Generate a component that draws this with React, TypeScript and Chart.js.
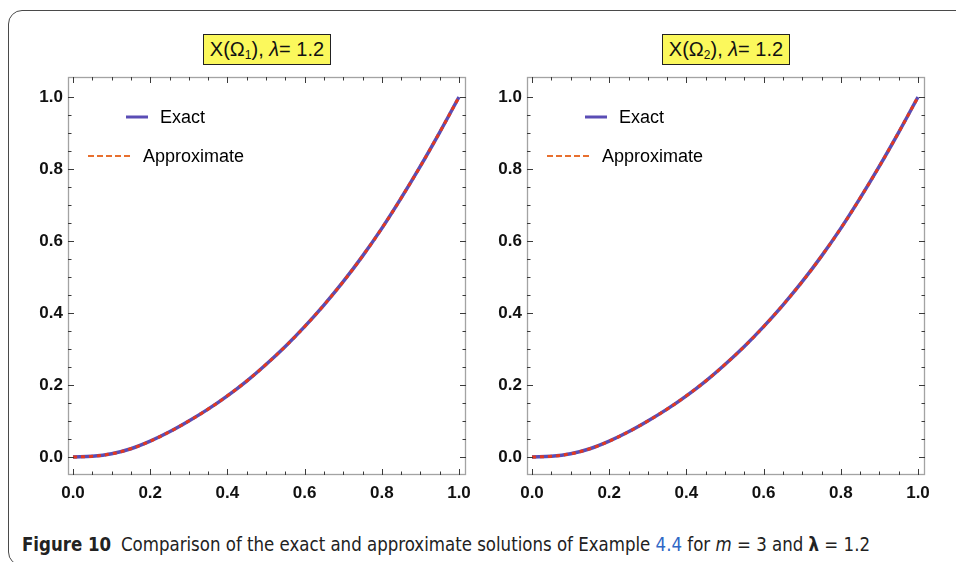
import React, { useEffect, useLayoutEffect, useRef } from "react";
import { Chart, registerables } from "chart.js";
Chart.register(...registerables);

// ---- data ----
const xValues = [0, 0.05, 0.1, 0.15, 0.2, 0.25, 0.3, 0.35, 0.4, 0.45, 0.5, 0.55, 0.6, 0.65, 0.7, 0.75, 0.8, 0.85, 0.9, 0.95, 1.0];
const exact1 = [0, 0.002, 0.009, 0.023, 0.044, 0.07, 0.1, 0.133, 0.17, 0.211, 0.257, 0.307, 0.362, 0.422, 0.487, 0.558, 0.635, 0.719, 0.808, 0.902, 1.0];
const approx1 = [0, 0.002, 0.009, 0.023, 0.044, 0.07, 0.1, 0.133, 0.17, 0.211, 0.257, 0.307, 0.362, 0.422, 0.487, 0.558, 0.635, 0.719, 0.808, 0.902, 1.0];
const exact2 = [0, 0.002, 0.009, 0.023, 0.044, 0.07, 0.1, 0.133, 0.17, 0.211, 0.257, 0.307, 0.362, 0.422, 0.487, 0.558, 0.635, 0.719, 0.808, 0.902, 1.0];
const approx2 = [0, 0.002, 0.009, 0.023, 0.044, 0.07, 0.1, 0.133, 0.17, 0.211, 0.257, 0.307, 0.362, 0.422, 0.487, 0.558, 0.635, 0.719, 0.808, 0.902, 1.0];
const majorTicks = [0, 0.2, 0.4, 0.6, 0.8, 1.0];
const minorTicks = [0, 0.05, 0.1, 0.15, 0.2, 0.25, 0.3, 0.35, 0.4, 0.45, 0.5, 0.55, 0.6, 0.65, 0.7, 0.75, 0.8, 0.85, 0.9, 0.95, 1.0];
const seriesLabels = ["Exact", "Approximate"];

const EXACT_COLOR = "#5a4db5";
const APPROX_COLOR = "#e2391f";
const APPROX_LEGEND_COLOR = "#e8702f";
const FONT = "'Liberation Sans', Arial, Helvetica, sans-serif";

const frameTicks = {
  id: "frameTicks",
  afterDraw(chart: any) {
    const { ctx, chartArea: a, scales } = chart;
    const xs = scales.x, ys = scales.y;
    ctx.save();
    ctx.strokeStyle = "#a3a3a3";
    ctx.lineWidth = 1.3;
    ctx.strokeRect(a.left + 0.5, a.top + 0.5, a.right - a.left - 1, a.bottom - a.top - 1);
    ctx.strokeStyle = "#3a3a3a";
    ctx.lineWidth = 1;
    const line = (x1: number, y1: number, x2: number, y2: number) => {
      ctx.beginPath(); ctx.moveTo(x1, y1); ctx.lineTo(x2, y2); ctx.stroke();
    };
    minorTicks.forEach((v) => {
      const major = majorTicks.some((m) => Math.abs(m - v) < 1e-9);
      const len = major ? 6 : 3.5;
      const px = Math.round(xs.getPixelForValue(v)) + 0.5;
      line(px, a.bottom, px, a.bottom - len);
      line(px, a.top, px, a.top + len);
      const py = Math.round(ys.getPixelForValue(v)) + 0.5;
      line(a.left, py, a.left + len, py);
      line(a.right, py, a.right - len, py);
    });
    ctx.restore();
  },
};

const innerLegend = {
  id: "innerLegend",
  afterDraw(chart: any) {
    const { ctx, chartArea: a } = chart;
    const ds = chart.data.datasets;
    ctx.save();
    ctx.font = `18px ${FONT}`;
    ctx.textBaseline = "middle";
    ctx.fillStyle = "#000";
    // Exact
    const y1 = a.top + 40;
    ctx.strokeStyle = ds[1].borderColor;
    ctx.lineWidth = 3;
    ctx.beginPath(); ctx.moveTo(a.left + 58, y1); ctx.lineTo(a.left + 80, y1); ctx.stroke();
    ctx.fillText(ds[1].label, a.left + 92, y1 + 1);
    // Approximate
    const y2 = a.top + 79;
    ctx.strokeStyle = APPROX_LEGEND_COLOR;
    ctx.lineWidth = 2.2;
    ctx.setLineDash([6, 3]);
    ctx.beginPath(); ctx.moveTo(a.left + 20, y2); ctx.lineTo(a.left + 65, y2); ctx.stroke();
    ctx.setLineDash([]);
    ctx.fillText(ds[0].label, a.left + 75, y2 + 1);
    ctx.restore();
  },
};

type PlotProps = {
  exact: number[];
  approx: number[];
  canvasLeft: number;
  canvasWidth: number;
  frameLeft: number;
  frameRight: number;
  sub: string;
};

const CANVAS_TOP = 60;
const CANVAS_H = 460;
const FRAME_TOP = 77;
const FRAME_BOTTOM = 475;

function Plot({ exact, approx, canvasLeft, canvasWidth, frameLeft, frameRight, sub }: PlotProps) {
  const ref = useRef<HTMLCanvasElement | null>(null);
  useEffect(() => {
    if (!ref.current) return;
    const yAxisWidth = frameLeft - canvasLeft;
    const xAxisHeight = CANVAS_TOP + CANVAS_H - FRAME_BOTTOM;
    const chart = new Chart(ref.current, {
      type: "line",
      data: {
        datasets: [
          {
            label: seriesLabels[1],
            data: xValues.map((x, i) => ({ x, y: approx[i] })),
            borderColor: APPROX_COLOR,
            borderWidth: 3,
            borderDash: [4, 4],
            pointRadius: 0,
            tension: 0.4,
            fill: false,
            order: 0,
          },
          {
            label: seriesLabels[0],
            data: xValues.map((x, i) => ({ x, y: exact[i] })),
            borderColor: EXACT_COLOR,
            borderWidth: 3.5,
            pointRadius: 0,
            tension: 0.4,
            fill: false,
            order: 1,
          },
        ],
      },
      options: {
        animation: false,
        responsive: false,
        devicePixelRatio: 1,
        layout: {
          padding: {
            left: 0,
            top: FRAME_TOP - CANVAS_TOP,
            right: canvasLeft + canvasWidth - frameRight,
            bottom: 0,
          },
        },
        plugins: { legend: { display: false }, tooltip: { enabled: false }, title: { display: false } },
        scales: {
          x: {
            type: "linear",
            min: -5 / 386,
            max: 1 + 7 / 386,
            grid: { display: false, drawTicks: false },
            border: { display: false },
            afterBuildTicks: (s: any) => { s.ticks = majorTicks.map((v) => ({ value: v })); },
            afterFit: (s: any) => { s.height = xAxisHeight; },
            ticks: {
              padding: 8,
              color: "#111",
              font: { family: FONT, size: 17, weight: "bold" },
              maxRotation: 0,
              callback: (v: any) => Number(v).toFixed(1),
            },
          },
          y: {
            type: "linear",
            min: -18 / 360,
            max: 1 + 20 / 360,
            grid: { display: false, drawTicks: false },
            border: { display: false },
            afterBuildTicks: (s: any) => { s.ticks = majorTicks.map((v) => ({ value: v })); },
            afterFit: (s: any) => { s.width = yAxisWidth; },
            ticks: {
              padding: 5,
              color: "#111",
              font: { family: FONT, size: 17, weight: "bold" },
              callback: (v: any) => Number(v).toFixed(1),
            },
          },
        },
      } as any,
      plugins: [frameTicks, innerLegend],
    });
    return () => chart.destroy();
  }, []);

  const center = (frameLeft + frameRight) / 2;
  return (
    <>
      <canvas
        ref={ref}
        width={canvasWidth}
        height={CANVAS_H}
        style={{ position: "absolute", left: canvasLeft, top: CANVAS_TOP, width: canvasWidth, height: CANVAS_H }}
      />
      <div
        style={{
          position: "absolute",
          left: center - 64,
          top: 34,
          width: 128,
          height: 31,
          boxSizing: "border-box",
          border: "1.5px solid #222",
          background: "#fbf85c",
          fontFamily: FONT,
          fontSize: 20,
          lineHeight: "28px",
          color: "#111",
          textAlign: "center",
          whiteSpace: "nowrap",
        }}
      >
        <span>
          X(Ω<sub style={{ fontSize: 12, verticalAlign: "-3px", lineHeight: 0 }}>{sub}</sub>),{" "}
          <i>λ</i>= 1.2
        </span>
      </div>
    </>
  );
}

function Caption() {
  const ref = useRef<HTMLDivElement | null>(null);
  useLayoutEffect(() => {
    const el = ref.current;
    if (!el) return;
    const w = el.getBoundingClientRect().width;
    if (w > 0) el.style.transform = `scaleX(${848 / w})`;
  }, []);
  return (
    <div
      ref={ref}
      style={{
        position: "absolute",
        left: 22,
        top: 533,
        fontFamily: "'Liberation Sans Narrow', 'DejaVu Sans Condensed', 'Liberation Sans', sans-serif",
        fontSize: 19,
        lineHeight: "22px",
        color: "#222",
        whiteSpace: "nowrap",
        transformOrigin: "left top",
        display: "inline-block",
      }}
    >
      <b>Figure 10</b>
      <span style={{ marginLeft: 10 }}>
        Comparison of the exact and approximate solutions of Example <span style={{ color: "#2f67c6" }}>4.4</span> for{" "}
        <i>m</i> = 3 and <b>λ</b> = 1.2
      </span>
    </div>
  );
}

export default function App() {
  return (
    <div
      style={{
        position: "fixed",
        left: 0,
        top: 0,
        width: 956,
        height: 562,
        overflow: "hidden",
        background: "#fff",
      }}
    >
      <div
        style={{
          position: "absolute",
          left: 8,
          top: 10,
          width: 1000,
          height: 556,
          border: "1.5px solid #4a4a4a",
          borderRadius: 14,
          boxSizing: "border-box",
        }}
      />
      <Plot exact={exact1} approx={approx1} canvasLeft={0} canvasWidth={480} frameLeft={68} frameRight={466} sub="1" />
      <Plot exact={exact2} approx={approx2} canvasLeft={470} canvasWidth={486} frameLeft={527} frameRight={925} sub="2" />
      <Caption />
    </div>
  );
}
